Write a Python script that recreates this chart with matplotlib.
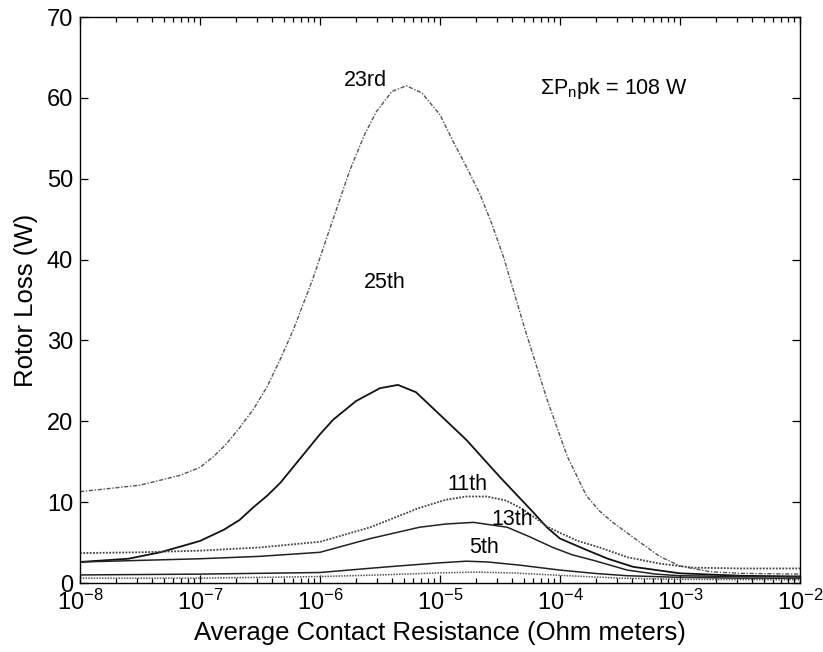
import numpy as np
import matplotlib
matplotlib.use('Agg')
import matplotlib.pyplot as plt

# log10 of contact resistance (Ohm meters) and rotor loss (W)
lx23 = [-8, -7.5, -7.17, -7.0, -6.89, -6.78, -6.67, -6.55, -6.44, -6.33, -6.22, -6.06, -5.9,
        -5.75, -5.63, -5.53, -5.4, -5.28, -5.15, -5.0, -4.89, -4.78, -4.67, -4.57, -4.47,
        -4.3, -4.11, -3.94, -3.78, -3.67, -3.56, -3.44, -3.33, -3.17, -3.0, -2.75, -2.5, -2.0]
loss23 = [11.3, 12.1, 13.3, 14.3, 15.6, 17.2, 19.2, 21.6, 24.3, 27.7, 31.4, 37.6, 44.6,
          51.1, 55.4, 58.3, 60.8, 61.5, 60.6, 57.9, 54.6, 51.5, 48.2, 44.5, 40.3,
          31.8, 22.8, 15.7, 10.8, 8.9, 7.5, 6.2, 5.0, 3.3, 2.1, 1.4, 1.2, 1.1]

lx25 = [-8, -7.6, -7.33, -7.0, -6.8, -6.67, -6.56, -6.44, -6.33, -6.22, -6.11, -6.0, -5.89,
        -5.7, -5.5, -5.35, -5.2, -5.0, -4.78, -4.5, -4.22, -4.11, -4.0, -3.78, -3.6, -3.39,
        -3.0, -2.5, -2.0]
loss25 = [2.6, 3.0, 3.8, 5.2, 6.6, 7.8, 9.3, 10.8, 12.4, 14.4, 16.4, 18.4, 20.2,
          22.5, 24.1, 24.5, 23.6, 20.8, 17.7, 13.1, 8.7, 6.9, 5.5, 4.1, 3.0, 2.0,
          1.2, 0.9, 0.8]

lx11 = [-8, -7.5, -7.0, -6.5, -6.0, -5.58, -5.17, -4.95, -4.78, -4.61, -4.45, -4.33, -4.2,
        -4.11, -4.0, -3.85, -3.67, -3.44, -3.17, -2.89, -2.5, -2.0]
loss11 = [3.7, 3.8, 4.0, 4.4, 5.1, 6.9, 9.3, 10.3, 10.7, 10.7, 10.2, 9.3, 8.0,
          7.0, 6.2, 5.2, 4.4, 3.2, 2.4, 1.9, 1.8, 1.8]

lx13 = [-8, -7.5, -7.0, -6.5, -6.0, -5.58, -5.17, -4.95, -4.72, -4.44, -4.25, -4.06, -3.9,
        -3.72, -3.44, -3.2, -3.0, -2.5, -2.0]
loss13 = [2.6, 2.8, 3.0, 3.3, 3.8, 5.5, 6.9, 7.3, 7.5, 6.9, 5.7, 4.4, 3.5,
          2.8, 1.6, 1.1, 0.9, 0.8, 0.8]

lx5 = [-8, -7, -6.0, -5.44, -5.0, -4.78, -4.6, -4.33, -4.0, -3.72, -3.44, -3.0, -2.5, -2.0]
loss5 = [1.0, 1.1, 1.3, 2.0, 2.5, 2.7, 2.6, 2.2, 1.6, 1.2, 0.9, 0.7, 0.6, 0.6]

lx7 = [-8, -7, -6, -5.5, -5.0, -4.7, -4.4, -4.0, -3.5, -3.0, -2.0]
loss7 = [0.6, 0.6, 0.8, 1.0, 1.25, 1.35, 1.25, 0.95, 0.6, 0.45, 0.4]

matplotlib.rc('font', family='Liberation Sans', size=17)
matplotlib.rc('mathtext', fontset='custom', rm='Liberation Sans',
              it='Liberation Sans:italic', bf='Liberation Sans:bold')

fig = plt.figure(figsize=(8.23, 6.52), dpi=100)
ax = fig.add_axes([0.0972, 0.1058, 0.8748, 0.8681])

ax.plot(10 ** np.array(lx23), loss23, color='#555555', lw=1.0, linestyle=(0, (3, 1.2, 1, 1.2)))
ax.plot(10 ** np.array(lx25), loss25, color='#111111', lw=1.3, linestyle='-')
ax.plot(10 ** np.array(lx11), loss11, color='#444444', lw=1.3, linestyle=(0, (1, 0.8)))
ax.plot(10 ** np.array(lx13), loss13, color='#222222', lw=1.1, linestyle='-')
ax.plot(10 ** np.array(lx5), loss5, color='#222222', lw=1.1, linestyle='-')
ax.plot(10 ** np.array(lx7), loss7, color='#555555', lw=1.1, linestyle=(0, (1, 0.8)))

ax.text(10 ** -5.62, 62.2, '23rd', fontsize=15.5, ha='center', va='center')
ax.text(10 ** -5.46, 37.2, '25th', fontsize=15.5, ha='center', va='center')
ax.text(10 ** -4.775, 12.2, '11th', fontsize=15.5, ha='center', va='center')
ax.text(10 ** -4.40, 7.9, '13th', fontsize=15.5, ha='center', va='center')
ax.text(10 ** -4.63, 4.45, '5th', fontsize=15.5, ha='center', va='center')
ax.text(10 ** -4.17, 61.2, r'$\Sigma$P$_\mathrm{n}$pk = 108 W', fontsize=15.5,
        ha='left', va='center')

ax.set_xscale('log')
ax.set_xlim(1e-8, 1e-2)
ax.set_ylim(0, 70)
ax.set_yticks(range(0, 71, 10))
ax.tick_params(which='both', direction='in', top=True, right=True, width=0.9)
ax.tick_params(which='major', length=6, labelsize=17, pad=5)
ax.tick_params(which='minor', length=3.5)
ax.minorticks_on()
ax.yaxis.set_minor_locator(matplotlib.ticker.NullLocator())
for s in ax.spines.values():
    s.set_linewidth(1.0)

ax.set_xlabel('Average Contact Resistance (Ohm meters)', fontsize=18.5, labelpad=4)
ax.set_ylabel('Rotor Loss (W)', fontsize=18.5, labelpad=6)

plt.savefig('out.png', dpi=100)
